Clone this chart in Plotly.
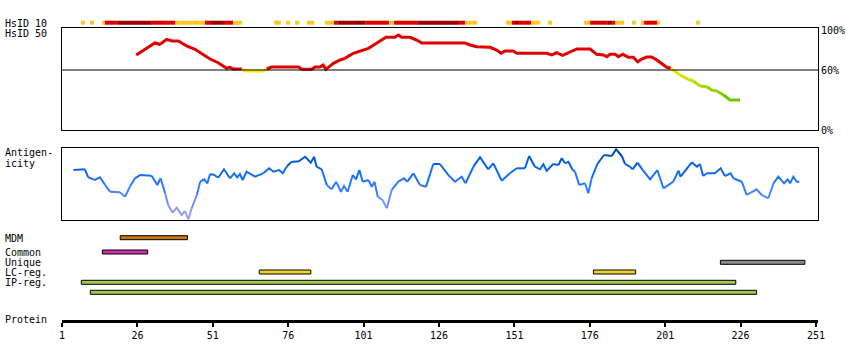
import plotly.graph_objects as go

# ---------------- data ----------------
# HsID 10 identity strip: segments (residue start, residue end, level)
HSID10_START = [7.3, 10.3, 14.3, 15.2, 19.3, 30.5, 38.5, 48.4, 50.4, 54.7, 57.7, 71.3, 75.3, 78.3, 82.2,
                88.2, 91.2, 92.3, 101.5, 109.4, 111.1, 119.0, 132.6, 134.6, 148.2, 150.2, 151.2, 152.5,
                156.5, 162.1, 174.1, 176.1, 182.0, 183.4, 184.4, 190.0, 193.0, 194.0, 198.3, 211.2]
HSID10_END = [8.6, 11.6, 15.2, 19.3, 30.5, 38.5, 48.4, 50.4, 54.7, 57.7, 60.7, 73.6, 76.6, 79.6, 84.6,
              91.2, 92.3, 101.5, 109.4, 111.1, 119.0, 132.6, 134.6, 138.6, 150.2, 151.2, 152.5, 156.5,
              159.5, 163.5, 176.1, 182.0, 183.4, 184.4, 187.3, 191.3, 194.0, 198.3, 199.3, 212.5]
HSID10_LEVEL = ['low', 'low', 'low', 'mid', 'high', 'mid', 'low', 'mid', 'high', 'mid', 'low', 'low', 'low',
                'low', 'low', 'low', 'mid', 'high', 'mid', 'low', 'mid', 'high', 'mid', 'low', 'low', 'mid',
                'high', 'mid', 'low', 'low', 'low', 'mid', 'high', 'mid', 'low', 'low', 'low', 'mid', 'low', 'low']

# HsID 50 identity curve (%)
HSID50_RES = [25.6, 29.1, 31.8, 33.3, 34.0, 35.7, 37.5, 39.6, 42.3, 45.1, 47.3, 50.1, 52.8, 55.6, 56.7,
              57.8, 60.6, 61.7, 67.7, 68.9, 70.5, 79.4, 80.5, 83.8, 84.9, 86.5, 87.6, 88.5, 91.0, 93.2,
              94.8, 97.6, 100.4, 102.6, 105.3, 108.4, 111.4, 112.5, 113.6, 116.4, 118.6, 120.3, 134.6,
              136.3, 138.5, 142.9, 145.1, 146.6, 147.9, 150.6, 151.8, 161.7, 163.4, 165.0, 167.0, 168.9,
              171.7, 176.1, 178.3, 180.5, 181.6, 182.7, 184.4, 185.5, 186.9, 188.8, 190.4, 191.9, 193.2,
              194.9, 196.5, 198.2, 200.4, 201.5, 202.9, 203.7, 205.9, 208.7, 210.3, 212.5, 214.8, 216.4,
              218.1, 220.3, 222.5, 225.8]
HSID50_VAL = [75, 81.7, 87, 85.7, 86.7, 90.7, 89, 89, 84, 80.7, 76.7, 71, 67.3, 61.7, 62.7,
              61, 61, 59, 59, 61, 63, 63, 60.7, 60.7, 63, 63, 65, 60.7, 66.7, 70,
              71.7, 76.7, 79.3, 81.7, 86.7, 92.7, 92.7, 95, 92.7, 92.7, 90, 87, 87,
              85, 83.3, 82.7, 80, 76.7, 79, 79, 76.7, 76.7, 75, 77.3, 74.7, 77.3,
              81, 81, 75.7, 75, 73.3, 75.7, 75.7, 73.3, 75.7, 72.7, 72.7, 68.3, 71,
              73, 73, 70, 65, 62.7, 61.7, 59.7, 55, 50.7, 49, 44, 43.3, 40,
              39, 35, 30, 30]
HSID50_THRESHOLD = 60
HSID50_TICKS = [0, 60, 100]
HSID50_TICKTEXT = ['0%', '60%', '100%']

# Antigenicity profile (relative units)
ANTIGEN_RES = [4.8, 8.6, 9.7, 11.9, 13.6, 15.3, 16.9, 20.2, 21.9, 23.5, 25.2, 26.9, 30.7, 32.6, 33.7,
               35.2, 36.2, 37.7, 39.0, 40.7, 41.8, 42.9, 44.0, 45.7, 46.8, 48.1, 49.2, 50.1, 51.5, 52.8,
               54.7, 56.7, 58.1, 59.1, 60.0, 60.9, 62.2, 65.0, 67.7, 69.7, 71.1, 73.0, 74.2, 75.5, 77.0,
               79.5, 81.6, 83.5, 84.6, 85.4, 87.1, 88.8, 90.4, 91.9, 93.5, 94.5, 95.7, 97.4, 98.5, 99.6,
               100.7, 102.6, 103.7, 104.6, 105.7, 107.3, 108.7, 110.3, 112.5, 114.4, 115.5, 117.5, 119.7,
               121.7, 124.1, 126.3, 129.1, 131.3, 133.5, 134.8, 137.4, 139.6, 142.3, 144.0, 146.8, 149.5,
               151.8, 154.5, 155.9, 157.8, 159.5, 160.6, 161.7, 163.9, 165.6, 166.7, 167.8, 168.9, 170.3,
               171.1, 172.5, 174.4, 175.5, 176.6, 178.5, 180.7, 183.3, 184.7, 186.6, 187.7, 189.3, 190.2,
               191.8, 193.7, 196.0, 198.4, 200.4, 203.7, 205.4, 206.1, 209.8, 211.5, 212.5, 213.6, 214.8,
               217.5, 219.4, 220.8, 222.7, 223.6, 226.4, 228.0, 231.3, 233.0, 235.2, 236.9, 238.5, 240.4,
               241.6, 242.4, 243.5, 244.6, 245.5]
ANTIGEN_VAL = [50, 50.7, 42.7, 40, 42.7, 35, 28.3, 27.7, 23.3, 33.3, 41.7, 45, 44.3, 35, 41.7,
               26.7, 15, 7.3, 12.3, 5, 9, 0.7, 11.7, 25, 38.3, 40.7, 36.7, 46, 45, 42.3,
               50.7, 41.7, 46.7, 42.7, 46, 40, 48.3, 43.3, 46.7, 51.7, 48.3, 50, 46.7, 53.3, 58,
               58.7, 63.3, 57.3, 63.3, 53.3, 50.7, 35, 30.7, 38.3, 28.3, 34, 28.3, 45, 40.7, 50,
               38.3, 40, 33.3, 38.3, 23.3, 20, 11.7, 30, 38.3, 41.7, 38.3, 46.7, 35,
               33.3, 56, 56, 45, 38.3, 43.3, 36.7, 53.3, 62.7, 50.7, 56.7, 39.3, 46.7,
               51.7, 51.7, 64, 53.3, 50.7, 55.7, 49.3, 56, 55, 61.7, 56.7, 58.3, 50.3,
               48.3, 35, 36.7, 26.7, 41.7, 56, 65, 64, 70.7, 64, 56, 53.3, 50.7,
               57.3, 49.3, 40.7, 50, 31.7, 38.3, 49.3, 43.3, 57.7, 53.3, 56, 44, 46.7,
               46.7, 51.7, 44, 46.7, 41.7, 38.3, 25, 30.7, 25, 21.7, 36.7, 43.3, 36.7,
               40.7, 36.7, 43.3, 38.3, 38.3]

# Feature tracks: (label row, start residue, end residue)
FEATURE_NAMES = ['MDM', 'Common', 'Unique', 'LC-reg.', 'LC-reg.', 'IP-reg.', 'IP-reg.']
FEATURE_ROW = ['MDM', 'Common', 'Unique', 'LC', 'LC', 'IP1', 'IP2']
FEATURE_START = [20.3, 14.4, 219.3, 66.4, 177.2, 7.4, 10.4]
FEATURE_END = [42.6, 29.4, 247.3, 83.5, 191.2, 224.4, 231.3]

PROTEIN_TICKS = [1, 26, 51, 76, 101, 126, 151, 176, 201, 226, 251]

# ---------------- styles / layout constants ----------------
FONT = dict(family='DejaVu Sans Mono', size=10, color='black')
X_RANGE = [1, 251.66]
ROW_Y = {'HSID10': 22.7, 'MDM': 237.7, 'Common': 252, 'Unique': 262.3, 'LC': 272, 'IP1': 282.3, 'IP2': 292.3}
FEATURE_COLOR = {'MDM': '#c8780a', 'Common': '#d030a8', 'Unique': '#8c8c8c', 'LC': '#f0d22a',
                 'IP1': '#a2c850', 'IP2': '#a2c850'}
HSID10_COLOR = {'low': '#ffc820', 'mid': '#e00000', 'high': '#9a0000'}
LEFT_LABELS = [('HsID 10', 23), ('HsID 50', 33), ('Antigen-', 152.5), ('icity', 163.5), ('MDM', 238),
               ('Common', 252), ('Unique', 262), ('LC-reg.', 272), ('IP-reg.', 282), ('Protein', 319)]

W, H = 850, 360
ML, MR, MT, MB = 62, 32, 0, 40
PH = H - MT - MB


def dom(top_px, bottom_px):
    return [1 - bottom_px / PH, 1 - top_px / PH]


def lerp(c1, c2, t):
    return tuple(round(a + (b - a) * t) for a, b in zip(c1, c2))


def hsid50_color(v):
    if v >= HSID50_THRESHOLD:
        return '#e00000'
    t = min(1.0, max(0.0, (HSID50_THRESHOLD - v) / 30.0))
    t = round(t * 10) / 10
    r, g, b = lerp((250, 240, 0), (110, 200, 0), t)
    return f'rgb({r},{g},{b})'


ANT_STOPS = [(0, (170, 160, 240)), (15, (130, 150, 250)), (30, (60, 130, 255)),
             (45, (20, 110, 240)), (60, (0, 90, 210)), (72, (0, 64, 160))]


def antigen_color(v):
    v = round(v / 4) * 4
    v = max(0, min(72, v))
    for (v0, c0), (v1, c1) in zip(ANT_STOPS[:-1], ANT_STOPS[1:]):
        if v0 <= v <= v1:
            r, g, b = lerp(c0, c1, (v - v0) / (v1 - v0))
            return f'rgb({r},{g},{b})'
    return 'rgb(0,64,160)'


fig = go.Figure()


def add_colored_line(xs, ys, colorfn, width, xa, ya, use_min):
    cur_c, cx, cy = None, [], []
    groups = []
    for i in range(len(xs) - 1):
        v = min(ys[i], ys[i + 1]) if use_min else (ys[i] + ys[i + 1]) / 2
        c = colorfn(v)
        if c != cur_c:
            if cx:
                groups.append((cur_c, cx, cy))
            cur_c, cx, cy = c, [xs[i]], [ys[i]]
        cx.append(xs[i + 1])
        cy.append(ys[i + 1])
    if cx:
        groups.append((cur_c, cx, cy))
    for c, gx, gy in groups:
        fig.add_trace(go.Scatter(x=gx, y=gy, mode='lines', line=dict(color=c, width=width),
                                 xaxis=xa, yaxis=ya, showlegend=False, hoverinfo='skip'))


# HsID 10 strip
for lvl in ['low', 'mid', 'high']:
    idx = [i for i, l in enumerate(HSID10_LEVEL) if l == lvl]
    fig.add_trace(go.Bar(orientation='h',
                         base=[HSID10_START[i] for i in idx],
                         x=[HSID10_END[i] - HSID10_START[i] for i in idx],
                         y=[ROW_Y['HSID10']] * len(idx), width=4,
                         marker=dict(color=HSID10_COLOR[lvl], line=dict(width=0)),
                         xaxis='x', yaxis='y', showlegend=False, hoverinfo='skip'))

# feature bars
for name, row, s, e in zip(FEATURE_NAMES, FEATURE_ROW, FEATURE_START, FEATURE_END):
    fig.add_trace(go.Bar(orientation='h', base=[s], x=[e - s], y=[ROW_Y[row]], width=4,
                         marker=dict(color=FEATURE_COLOR[row], line=dict(width=1, color='black')),
                         xaxis='x', yaxis='y', showlegend=False, name=name, hoverinfo='skip'))

# HsID 50 curve
add_colored_line(HSID50_RES, HSID50_VAL, hsid50_color, 3, 'x2', 'y2', True)
# antigenicity curve
add_colored_line(ANTIGEN_RES, ANTIGEN_VAL, antigen_color, 2, 'x3', 'y3', False)

for text, yy in LEFT_LABELS:
    fig.add_annotation(text=text, xref='paper', x=(2.7 - ML) / (W - ML - MR), xanchor='left',
                       yref='y', y=yy, yanchor='middle', showarrow=False, font=FONT)

fig.add_shape(type='line', xref='x2 domain', x0=0, x1=1, yref='y2', y0=HSID50_THRESHOLD,
              y1=HSID50_THRESHOLD, line=dict(color='black', width=1))

box = dict(showline=True, mirror=True, linecolor='black', linewidth=1, showgrid=False,
           zeroline=False, ticks='')

fig.update_layout(
    width=W, height=H, margin=dict(l=ML, r=MR, t=MT, b=MB, autoexpand=False),
    paper_bgcolor='white', plot_bgcolor='white', barmode='overlay', showlegend=False,
    font=FONT,
    xaxis=dict(range=X_RANGE, domain=[0, 1], anchor='y', showline=True, linecolor='black', linewidth=3,
               ticks='outside', ticklen=4, tickwidth=2, tickcolor='black', tickvals=PROTEIN_TICKS,
               tickfont=FONT, showgrid=False, zeroline=False, automargin=False),
    yaxis=dict(range=[PH, 0], domain=[0, 1], visible=False, fixedrange=True),
    xaxis2=dict(matches='x', anchor='y2', showticklabels=False, **box),
    yaxis2=dict(range=[0, 102], domain=dom(28, 130), anchor='x2', side='right', automargin=False,
                tickvals=HSID50_TICKS, ticktext=HSID50_TICKTEXT, tickfont=FONT, **box),
    xaxis3=dict(matches='x', anchor='y3', showticklabels=False, **box),
    yaxis3=dict(range=[0, 72], domain=dom(148, 220), anchor='x3', showticklabels=False, **box),
)

fig.write_html('out.html', config={'displayModeBar': False},
               post_script="document.body.style.margin='0';")
